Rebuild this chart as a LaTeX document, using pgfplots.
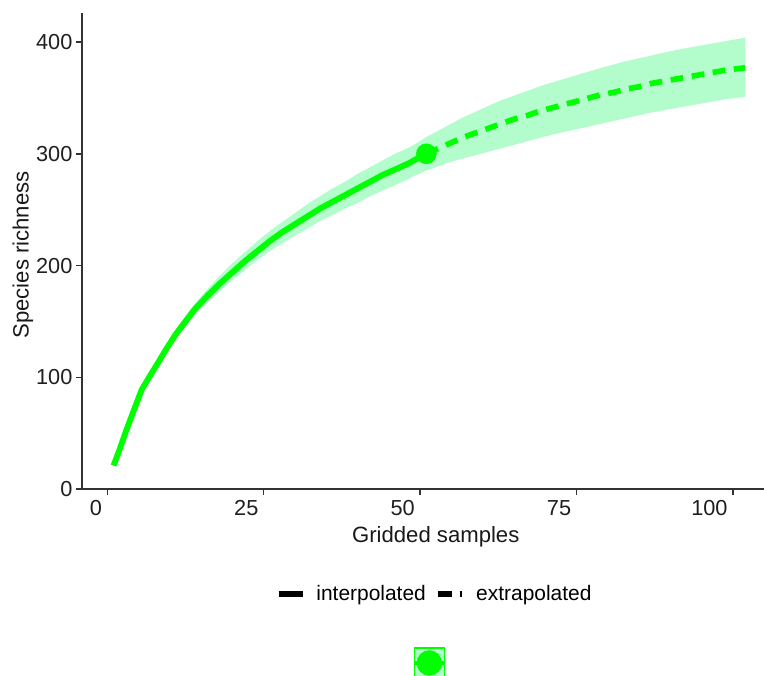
\documentclass[border=0pt]{standalone}
\usepackage{pgfplots}
\pgfplotsset{compat=1.18}
\usepackage{fontspec}
\setmainfont{Liberation Sans}
\definecolor{lime}{RGB}{0,255,0}
\definecolor{band}{RGB}{179,252,204}
\definecolor{axgray}{RGB}{51,51,51}
\begin{document}
\begin{tikzpicture}
\useasboundingbox (-61.5pt,-139.5pt) rectangle (511.5pt,366.75pt);
\begin{axis}[
  at={(0,0)}, anchor=south west,
  scale only axis,
  width=521.25pt, height=357pt,
  xmin=-4.05, xmax=107.05, ymin=0, ymax=426,
  axis lines=left,
  axis line style={-, draw=axgray, line width=1.1pt},
  tick align=outside,
  major tick length=4.2pt,
  tick style={draw=axgray, line width=1.1pt},
  xtick={0,25,50,75,100},
  ytick={0,100,200,300,400},
  /pgf/number format/assume math mode=true,
  ticklabel style={font=\fontsize{16.3}{18}\selectfont, text=black!88},
  xticklabel style={anchor=north east, xshift=-0.5pt, yshift=-1pt},
  yticklabel style={xshift=0.5pt},
  xlabel={Gridded samples},
  ylabel={Species richness},
  label style={font=\fontsize{16.6}{19}\selectfont, text=black!90},
  xlabel style={at={(axis description cs:0.509,-0.1008)}, anchor=center},
  ylabel style={at={(axis description cs:-0.0849,0.4916)}, anchor=center},
  legend style={at={(axis description cs:0.508,-0.2206)}, anchor=center, draw=none, fill=none,
    font=\fontsize{15.7}{18}\selectfont, legend columns=2,
    /tikz/every odd column/.append style={column sep=6.5pt},
    /tikz/every even column/.append style={column sep=5.5pt}},
  legend cell align=left,
  legend image code/.code={\draw[#1] (0pt,0pt) -- (18pt,0pt);},
  clip=false,
]
\addlegendimage{black, line width=3.8pt}
\addlegendentry{interpolated}
\addlegendimage{black, line width=3.8pt, dash pattern=on 10pt off 6pt}
\addlegendentry{extrapolated}
% confidence band: upper then lower reversed
\addplot[fill=band, draw=none, forget plot] coordinates {
(1,22) (2,37) (3,54) (4,69) (5.5,91) (7,106) (8,115) (9.5,130) (11,143) (12.5,155) (14,166) (16,179) (18,191) (20,202) (22,212) (24,222) (26,231) (28,239) (30,247) (32,255) (34,262) (36,269) (38,275) (40,282) (42,288) (44,294) (46,300) (48,305) (49,308) (51,315)
(53,321) (55,327) (57,333) (59,338) (61,343) (63,348) (65,352) (67,356) (70,362) (73,367) (76,372) (79,377) (83,383) (87,388) (91,393) (95,397) (99,401) (102,404)
(102,351) (99,349) (95,345) (91,341) (87,337) (83,332) (79,327) (75,322) (71,317) (67,311) (63,305) (59,299) (55,293)
(51,285) (49,280) (48,277) (46,272) (44,267) (42,262) (40,256) (38,251) (36,245) (34,240) (32,233) (30,227) (28,220) (26,213) (24,205) (22,196) (20,187) (18,177) (16,167) (14,156) (12.5,145) (11,135) (9.5,122) (8,109) (7,100) (5.5,87) (4,65) (3,50) (2,35) (1,20)
} -- cycle;
% interpolated
\addplot[lime, line width=4.4pt, forget plot] coordinates {
(1,21) (2,36) (3,52) (4,67) (5.5,89) (7,103) (8,112) (9.5,126) (11,139) (12.5,150) (14,161) (16,173) (18,184) (20,194) (22,204) (24,213) (26,222) (28,230) (30,237) (32,244) (34,251) (36,257) (38,263) (40,269) (42,275) (44,281) (46,286) (48,291) (49,294) (51,300)
};
% extrapolated
\addplot[lime, line width=4.2pt, dash pattern=on 9.5pt off 6.5pt, forget plot] coordinates {
(51,300) (53,305) (55,310) (57,315) (59,319) (61,323) (63,327) (65,331) (67,334) (69,338) (71,341) (73,344) (75,347) (77,350) (79,353) (81,355) (83,358) (85,360) (87,363) (89,365) (91,367) (93,369) (95,371) (97,373) (99,375) (102,377)
};
% observed point
\addplot[only marks, mark=*, mark size=7.5pt, color=lime, forget plot] coordinates {(51,300)};
\end{axis}
\begin{axis}[
  at={(0,0)}, anchor=south west,
  scale only axis,
  width=521.25pt, height=357pt,
  xmin=0, xmax=1, ymin=0, ymax=1,
  hide axis,
  legend style={at={(axis description cs:0.5007,-0.3655)}, anchor=center, draw=none, fill=none,
    inner sep=0pt, outer sep=0pt, nodes={inner sep=0pt}},
  legend image code/.code={
    \draw[fill=band, draw=lime, line width=0.9pt] (0pt,-11.25pt) rectangle (22.5pt,11.25pt);
    \draw[lime, line width=3.6pt] (0.5pt,0pt) -- (22pt,0pt);
    \fill[lime] (11.25pt,0pt) circle (9.3pt);
  },
]
\addlegendimage{}
\addlegendentry{}
\end{axis}
\end{tikzpicture}
\end{document}
